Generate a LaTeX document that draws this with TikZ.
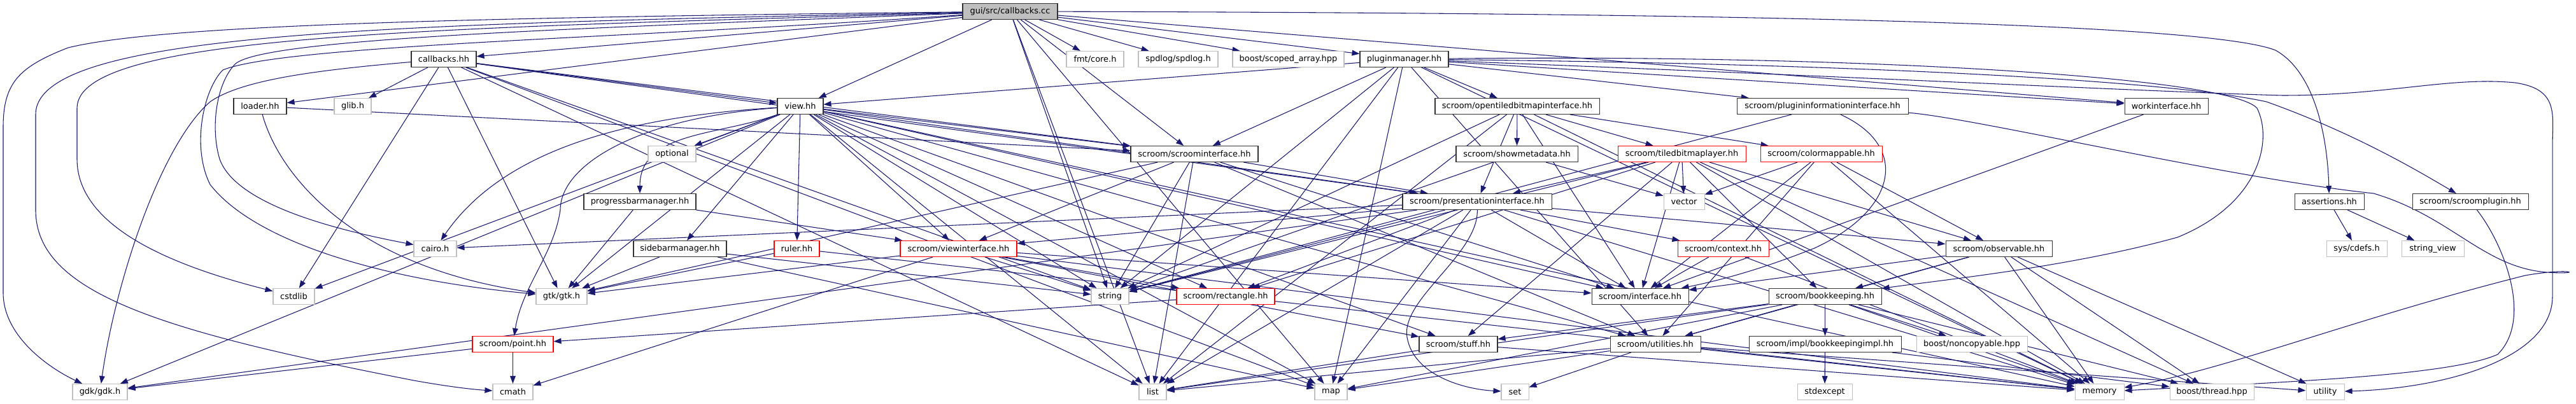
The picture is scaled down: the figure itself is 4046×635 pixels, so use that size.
\documentclass[tikz,border=0pt]{standalone}
\usepackage{fontspec}
\newfontfamily\doxfont{DejaVu Sans}
\usetikzlibrary{arrows.meta}
\definecolor{edgeblue}{RGB}{25,25,112}
\definecolor{greybd}{RGB}{191,191,191}
\definecolor{redbd}{RGB}{255,0,0}
\definecolor{darkbd}{RGB}{50,50,50}
\pgfdeclarelayer{edgelayer}
\pgfsetlayers{edgelayer,main}
\tikzset{
  box/.style={rectangle, fill=white, line width=0.8pt, minimum height=18.75pt,
    inner xsep=2pt, inner ysep=0pt, text=black,
    font=\doxfont\fontsize{9.7}{11}\selectfont},
  bw/.style={minimum width=#1*0.75pt},
  nblack/.style={box, draw=darkbd},
  ngrey/.style={box, draw=greybd},
  nred/.style={box, draw=redbd},
  nroot/.style={box, draw=darkbd, fill=black!25},
  dep/.style={draw=edgeblue, line width=0.8pt, -{Triangle[length=9pt,width=6.5pt]}}
}
\begin{document}
\begin{tikzpicture}[x=0.75pt,y=-0.75pt]
\useasboundingbox (0,0) rectangle (4046,635);
% row 0
\node[nroot, bw=149] (root) at (1586.5,18) {gui/src/callbacks.cc};
% row 1
\node[nblack, bw=102] (cbhh) at (697,93) {callbacks.hh};
\node[ngrey, bw=90] (fmt) at (1720,93) {fmt/core.h};
\node[ngrey, bw=125] (spdlog) at (1850.5,93) {spdlog/spdlog.h};
\node[ngrey, bw=175] (scoped) at (2023.5,93) {boost/scoped\_array.hpp};
\node[nblack, bw=139] (plugmgr) at (2205.5,93) {pluginmanager.hh};
% row 2
\node[nblack, bw=83] (loader) at (408.5,167) {loader.hh};
\node[ngrey, bw=58] (glib) at (554,167) {glib.h};
\node[nblack, bw=72] (view) at (1257,167) {view.hh};
\node[nblack, bw=258] (otbi) at (2383,167) {scroom/opentiledbitmapinterface.hh};
\node[nblack, bw=269] (pii) at (2862.5,167) {scroom/plugininformationinterface.hh};
\node[nblack, bw=131] (work) at (3402.5,167) {workinterface.hh};
% row 3
\node[ngrey, bw=75] (optional) at (1055.5,242) {optional};
\node[nblack, bw=200] (si) at (1876,242) {scroom/scroominterface.hh};
\node[nblack, bw=191] (smd) at (2382.5,242) {scroom/showmetadata.hh};
\node[nred, bw=201] (tbl) at (2641.5,242) {scroom/tiledbitmaplayer.hh};
\node[nred, bw=191] (cm) at (2860.5,242) {scroom/colormappable.hh};
% row 4
\node[nblack, bw=176] (pbm) at (1005,317) {progressbarmanager.hh};
\node[nblack, bw=234] (pi) at (2320,317) {scroom/presentationinterface.hh};
\node[ngrey, bw=64] (vector) at (2645,317) {vector};
\node[nblack, bw=109] (assert) at (3658.5,317) {assertions.hh};
\node[nblack, bw=182] (splugin) at (3880,317) {scroom/scroomplugin.hh};
% row 5
\node[ngrey, bw=67] (cairo) at (683.5,391) {cairo.h};
\node[nblack, bw=146] (sbm) at (1068,391) {sidebarmanager.hh};
\node[nred, bw=71] (ruler) at (1251.5,391) {ruler.hh};
\node[nred, bw=183] (vi) at (1505.5,391) {scroom/viewinterface.hh};
\node[nred, bw=143] (ctx) at (2706.5,391) {scroom/context.hh};
\node[nblack, bw=167] (obs) at (3139.5,391) {scroom/observable.hh};
\node[ngrey, bw=95] (cdefs) at (3701.5,391) {sys/cdefs.h};
\node[ngrey, bw=98] (sview) at (3821,391) {string\_view};
% row 6
\node[ngrey, bw=65] (cstdlib) at (461.5,466) {cstdlib};
\node[ngrey, bw=80] (gtk) at (882,466) {gtk/gtk.h};
\node[ngrey, bw=59] (string) at (1743.5,466) {string};
\node[nred, bw=154] (rect) at (1925,466) {scroom/rectangle.hh};
\node[nblack, bw=152] (iface) at (2576,466) {scroom/interface.hh};
\node[nblack, bw=177] (bk) at (2866.5,466) {scroom/bookkeeping.hh};
% row 7
\node[nred, bw=127] (point) at (805.5,541) {scroom/point.hh};
\node[nblack, bw=123] (stuff) at (2290.5,541) {scroom/stuff.hh};
\node[nblack, bw=142] (util) at (2600,541) {scroom/utilities.hh};
\node[nblack, bw=239] (bkimpl) at (2866.5,541) {scroom/impl/bookkeepingimpl.hh};
\node[ngrey, bw=174] (noncopy) at (3097,541) {boost/noncopyable.hpp};
% row 8
\node[ngrey, bw=86] (gdk) at (157,616) {gdk/gdk.h};
\node[ngrey, bw=63] (cmath) at (805.5,616) {cmath};
\node[ngrey, bw=43] (list) at (1810.5,616) {list};
\node[ngrey, bw=51] (map) at (2090.5,616) {map};
\node[ngrey, bw=43] (set) at (2379.5,616) {set};
\node[ngrey, bw=86] (stdexcept) at (2866,616) {stdexcept};
\node[ngrey, bw=77] (memory) at (3297.5,616) {memory};
\node[ngrey, bw=132] (thread) at (3474,616) {boost/thread.hpp};
\node[ngrey, bw=60] (utility) at (3652,616) {utility};

\begin{pgfonlayer}{edgelayer}
\foreach \a/\b in {root/cbhh, root/loader, root/view, root/string, root/fmt, root/spdlog,
  root/scoped, root/plugmgr, root/work, root/si, root/list, root/map,
  cbhh/glib, cbhh/view, cbhh/cstdlib, cbhh/gtk, cbhh/si, cbhh/pi, cbhh/map, cbhh/list, cbhh/string,
  loader/si,
  view/optional, view/sbm, view/ruler, view/gtk, view/gdk, view/cstdlib,
  view/si, view/pi, view/vi, view/string, view/rect, view/stuff, view/util, view/map,
  view/list, view/memory, view/iface,
  pbm/gtk, pbm/vi, sbm/gtk, sbm/string, sbm/map, ruler/gtk, ruler/memory,
  plugmgr/view, plugmgr/string, plugmgr/list, plugmgr/si, plugmgr/map, plugmgr/otbi, plugmgr/pii,
  plugmgr/work, plugmgr/util, plugmgr/memory,
  otbi/smd, otbi/tbl, otbi/cm, otbi/pi, otbi/iface, otbi/string, otbi/memory, otbi/list,
  smd/vector, smd/string, pii/string, work/iface,
  si/vi, si/string, si/list, si/pi, si/iface, si/gtk, si/util,
  tbl/vector, tbl/pi, tbl/rect, tbl/iface, tbl/obs, tbl/bk, tbl/memory, tbl/string, tbl/stuff, tbl/thread,
  cm/vector, cm/obs, cm/iface, cm/memory, cm/util,
  pi/cairo, pi/gdk, pi/vi, pi/rect, pi/map, pi/iface, pi/ctx, pi/obs, pi/memory, pi/string, pi/list,
  assert/cdefs, assert/sview,
  vi/string, vi/rect, vi/gtk, vi/iface, vi/memory, vi/stuff, vi/cmath,
  ctx/iface, ctx/memory,
  obs/bk, obs/iface, obs/util, obs/memory, obs/thread, obs/utility,
  rect/point,
  bk/bkimpl, bk/noncopy, bk/util, bk/map, bk/list, bk/memory, bk/stuff, bk/thread,
  point/cmath, point/gdk, stuff/list, stuff/memory,
  util/set, util/map, util/list, util/memory, util/utility,
  bkimpl/stdexcept, bkimpl/thread}
  \draw[dep] (\a) -- (\b);
% curved connectors
\draw[dep] (root) .. controls (700,28) and (250,40) .. (107,75)
  .. controls (30,105) and (5,130) .. (5,200) -- (5,460)
  .. controls (5,530) and (80,580) .. (gdk);
\draw[dep] (root) .. controls (600,38) and (56,50) .. (56,180) -- (56,330)
  .. controls (56,460) and (250,520) .. (650,598)
  .. controls (700,607) and (740,612) .. (cmath);
\draw[dep] (root) .. controls (650,45) and (121,55) .. (121,170) -- (121,250)
  .. controls (121,360) and (280,420) .. (cstdlib);
\draw[dep] (root) .. controls (900,45) and (420,60) .. (370,100)
  .. controls (340,130) and (330,200) .. (345,250)
  .. controls (370,320) and (520,360) .. (cairo);
\draw[dep] (root) .. controls (1000,60) and (450,70) .. (350,110)
  .. controls (320,140) and (300,230) .. (330,290)
  .. controls (400,380) and (600,440) .. (gtk);
\draw[dep] (root) .. controls (2500,20) and (3450,30) .. (3574,79)
  .. controls (3630,110) and (3655,200) .. (assert);
\draw[dep] (cbhh) .. controls (500,110) and (380,125) .. (330,160)
  .. controls (250,230) and (180,450) .. (gdk);
\draw[dep] (loader) .. controls (440,280) and (560,420) .. (gtk);
\draw[dep] (view) to[out=200,in=90] (pbm);
\draw[dep] (view) .. controls (950,185) and (780,250) .. (cairo);
\draw[dep] (view) .. controls (1000,185) and (880,260) .. (880,330)
  .. controls (870,400) and (820,450) .. (point);
\draw[dep] (plugmgr) .. controls (2900,85) and (3500,120) .. (3545,170)
  .. controls (3570,220) and (3550,320) .. (3420,373)
  .. controls (3250,420) and (3050,440) .. (bk);
\draw[dep] (plugmgr) .. controls (2900,100) and (3400,125) .. (3560,160)
  .. controls (3700,210) and (3800,270) .. (splugin);
\draw[dep] (plugmgr) .. controls (2900,120) and (3400,145) .. (3585,150)
  .. controls (3750,150) and (3850,120) .. (3950,130)
  .. controls (4020,140) and (4009,180) .. (4009,230) -- (4009,466)
  .. controls (4009,560) and (3850,610) .. (utility);
\draw[dep] (pii) .. controls (3100,185) and (3500,280) .. (3728,304)
  .. controls (3850,340) and (3900,420) .. (4000,428)
  .. controls (4060,432) and (4040,420) .. (3966,433)
  .. controls (3700,500) and (3500,580) .. (memory);
\draw[dep] (pii) .. controls (3000,230) and (2980,330) .. (2850,390)
  .. controls (2750,430) and (2680,445) .. (iface);
\draw[dep] (splugin) .. controls (3930,380) and (3980,500) .. (3923,557)
  .. controls (3850,590) and (3600,600) .. (memory);
\draw[dep] (pi) .. controls (2322,400) and (2200,470) .. (2210,530)
  .. controls (2220,590) and (2300,612) .. (set);
\end{pgfonlayer}
\end{tikzpicture}
\end{document}
